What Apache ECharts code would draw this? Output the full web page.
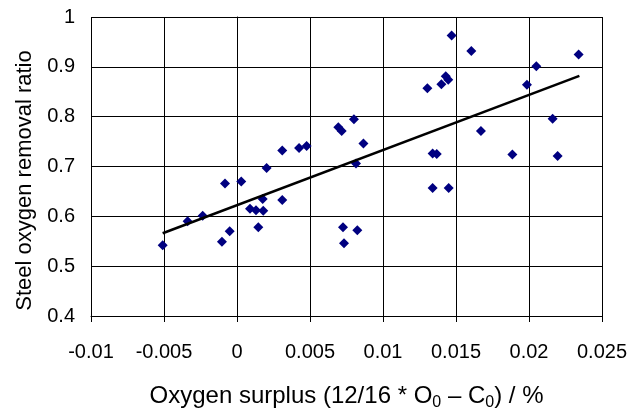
<!DOCTYPE html>
<html>
<head>
<meta charset="utf-8">
<script src="https://cdn.jsdelivr.net/npm/echarts@6/dist/echarts.min.js"></script>
<style>
  html, body { margin: 0; padding: 0; background: #fff; }
  #main { width: 639px; height: 410px; }
</style>
</head>
<body>
<div id="main"></div>
<script>
// measured points (oxygen surplus, removal ratio)
var surplus = [-0.00509,-0.00338,-0.00235,-0.00103,-0.00082,-0.0005,0.00029,0.00089,0.0013,0.00146,0.0018,0.00176,0.00203,0.0031,0.0031,0.00425,0.00477,0.00694,0.00717,0.00726,0.00733,0.00801,0.00815,0.00824,0.00866,0.01304,0.0134,0.0134,0.01368,0.014,0.0143,0.01447,0.0145,0.0147,0.01605,0.01671,0.01886,0.01986,0.0205,0.02162,0.02196,0.0234];
var ratio = [0.542,0.590,0.601,0.549,0.666,0.570,0.670,0.615,0.612,0.578,0.611,0.635,0.697,0.633,0.732,0.737,0.741,0.779,0.771,0.578,0.546,0.795,0.706,0.572,0.746,0.857,0.726,0.657,0.725,0.865,0.881,0.874,0.657,0.963,0.932,0.771,0.724,0.864,0.901,0.796,0.721,0.925];

// linear trend line end points
var trendX = [-0.00509, 0.02345];
var trendY = [0.566, 0.882];

var pts = surplus.map(function (x, i) { return [x, ratio[i]]; });
var trend = trendX.map(function (x, i) { return [x, trendY[i]]; });

var font = 'Liberation Sans, Arial, sans-serif';
var myChart = echarts.init(document.getElementById('main'));
var option = {
  animation: false,
  grid: { left: 91, right: 37, top: 17, bottom: 94, outerBoundsMode: 'none', containLabel: false },
  xAxis: {
    type: 'value',
    min: -0.01, max: 0.025, interval: 0.005,
    name: '{a|Oxygen surplus (12/16 * O}{s|0}{a| \u2013 C}{s|0}{a|) / %}',
    nameLocation: 'middle',
    nameGap: 65,
    nameTextStyle: {
      fontFamily: font, fontSize: 24, color: '#000',
      rich: {
        a: { fontFamily: font, fontSize: 24, lineHeight: 30, color: '#000' },
        s: { fontFamily: font, fontSize: 16, lineHeight: 20, verticalAlign: 'bottom', color: '#000' }
      }
    },
    axisLine: { onZero: false, lineStyle: { color: '#000', width: 1 } },
    axisTick: { show: true, length: 6, lineStyle: { color: '#000' } },
    axisLabel: { fontFamily: font, fontSize: 20, color: '#000', margin: 26 },
    splitLine: { show: true, lineStyle: { color: '#000', width: 1 } }
  },
  yAxis: {
    type: 'value',
    min: 0.4, max: 1, interval: 0.1,
    name: 'Steel oxygen removal ratio',
    nameLocation: 'middle',
    nameGap: 51,
    nameTextStyle: { fontFamily: font, fontSize: 22, color: '#000', padding: [0, 28, 0, 0] },
    axisLine: { show: true, lineStyle: { color: '#000', width: 1 } },
    axisTick: { show: true, length: 8, lineStyle: { color: '#000' } },
    axisLabel: { fontFamily: font, fontSize: 20, color: '#000', margin: 16 },
    splitLine: { show: true, lineStyle: { color: '#000', width: 1 } }
  },
  series: [
    {
      type: 'scatter',
      data: pts,
      symbol: 'path://M0,-1L1,0L0,1L-1,0Z',
      symbolSize: 10,
      itemStyle: { color: '#000080', opacity: 1 }
    },
    {
      type: 'line',
      data: trend,
      symbol: 'none',
      lineStyle: { color: '#000', width: 2.5 }
    }
  ]
};
myChart.setOption(option);
</script>
</body>
</html>
